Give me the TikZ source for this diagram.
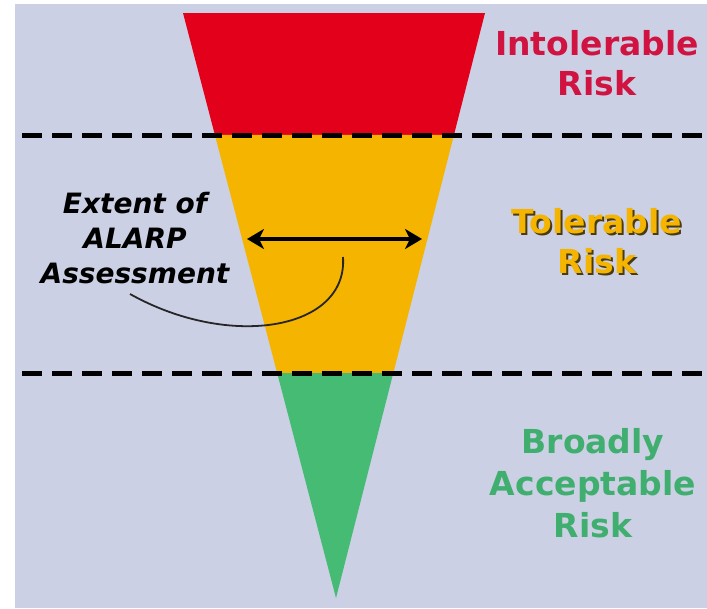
\documentclass[tikz,border=0pt]{standalone}
\usepackage{fontspec}
\setmainfont{DejaVu Sans}
\usetikzlibrary{arrows.meta,calc}
\definecolor{riskbg}{HTML}{CBD0E4}
\definecolor{riskred}{HTML}{E3001B}
\definecolor{riskorange}{HTML}{F4B400}
\definecolor{riskgreen}{HTML}{45BB73}
\definecolor{redtext}{HTML}{D01341}
\definecolor{greentext}{HTML}{3FAE6E}
\definecolor{shadowtext}{HTML}{4A3A10}
\newcommand{\shadowed}[1]{\makebox[0pt][l]{\hspace{2pt}\raisebox{-2pt}{\textcolor{shadowtext}{#1}}}#1}
\begin{document}
\begin{tikzpicture}[x=1pt,y=-1pt,
            zone/.style={align=center,font=\bfseries\fontsize{33}{40}\selectfont},
            note/.style={align=center,font=\bfseries\itshape\fontsize{28}{35}\selectfont},
            limit/.style={line width=5pt,dash pattern=on 20pt off 10pt},
            extent/.style={line width=4pt,{Stealth[length=17pt,width=20pt,inset=5pt]}-{Stealth[length=17pt,width=20pt,inset=5pt]}}]
            \fill[white] (0,0) rectangle (707,608);
            \useasboundingbox (0,0) rectangle (707,608);
            \fill[riskbg] (15,4) rectangle (707,608);
            \coordinate (tl) at (183,13);
            \coordinate (tr) at (485,13);
            \coordinate (apex) at (336,598);
            \coordinate (ul) at ($(tl)!0.2085!(apex)$);
            \coordinate (ur) at ($(tr)!0.2085!(apex)$);
            \coordinate (ll) at ($(tl)!0.6154!(apex)$);
            \coordinate (lr) at ($(tr)!0.6154!(apex)$);
            \fill[riskred] (tl) -- (tr) -- (ur) -- (ul) -- cycle;
            \fill[riskorange] (ul) -- (ur) -- (lr) -- (ll) -- cycle;
            \fill[riskgreen] (ll) -- (lr) -- (apex) -- cycle;
            \coordinate (upperstart) at (22,135);
            \coordinate (upperend) at (707,135);
            \coordinate (lowerstart) at (22,373);
            \coordinate (lowerend) at (707,373);
            \draw[limit] (upperstart) -- (upperend);
            \draw[limit] (lowerstart) -- (lowerend);
            \node[zone,text=redtext] (intolerable) at (597,63) {Intolerable\\Risk};
            \node[zone,text=riskorange] (tolerable) at (597,242) {\shadowed{Tolerable}\\\shadowed{Risk}};
            \node[zone,text=greentext,font=\bfseries\fontsize{33}{42}\selectfont] (acceptable) at (593,483) {Broadly\\Acceptable\\Risk};
            \node[note] (alarp) at (135,238) {Extent of\\ALARP\\Assessment};
            \coordinate (left) at (247,239);
            \coordinate (right) at (422,239);
            \draw[extent] (left) -- (right);
            \coordinate (tail) at (130,294);
            \coordinate (head) at (343,257);
            \draw[line width=1.8pt,black!85] (tail) .. controls (230,350) and (348,330) .. (head);
        \end{tikzpicture}
\end{document}
